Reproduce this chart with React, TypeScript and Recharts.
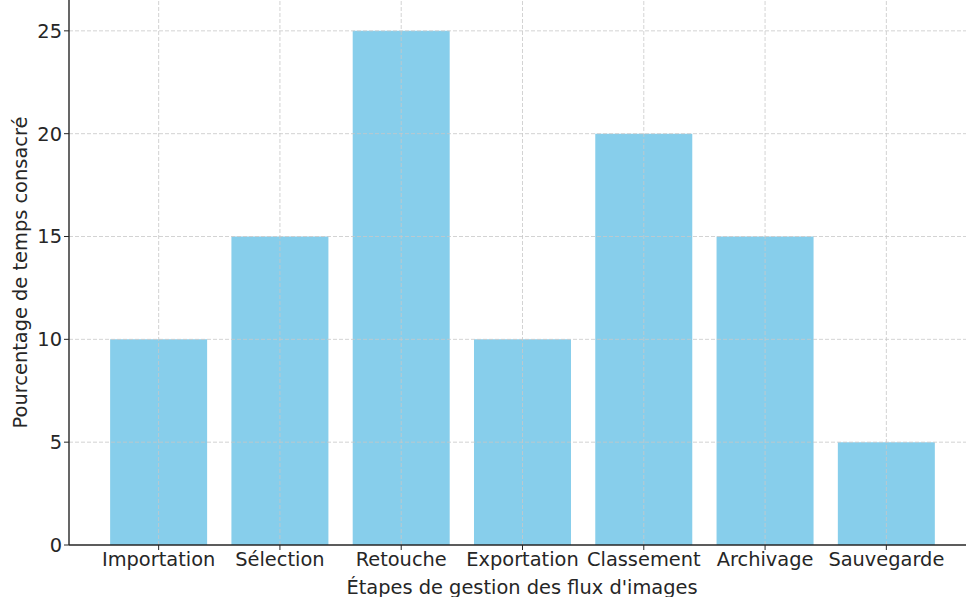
import React from "react";
import { BarChart, Bar, XAxis, YAxis, ReferenceLine, Label } from "recharts";

const categories = ["Importation", "Sélection", "Retouche", "Exportation", "Classement", "Archivage", "Sauvegarde"];
const values = [10, 15, 25, 10, 20, 15, 5];
const yTicks = [0, 5, 10, 15, 20, 25];

const data = categories.map((name, i) => ({ name, value: values[i] }));

const FONT = "DejaVu Sans, sans-serif";
const FS = 19.4;
const INK = "#262626";
const GRID = { stroke: "#c8c8c8", strokeDasharray: "4 2", strokeWidth: 0.8 };

export default function App() {
  return (
    <div style={{ position: "fixed", left: 0, top: 0, width: 966, height: 597, overflow: "hidden", background: "#fff" }}>
      <BarChart
        width={980}
        height={597}
        data={data}
        margin={{ top: 0, right: 5, bottom: 0, left: 0 }}
        barCategoryGap="10%"
      >
        <Bar dataKey="value" fill="#87CEEB" isAnimationActive={false} />
        {yTicks.filter((t) => t > 0).map((t) => (
          <ReferenceLine key={"h" + t} y={t} {...GRID} />
        ))}
        {categories.map((c) => (
          <ReferenceLine key={"v" + c} x={c} {...GRID} />
        ))}
        <XAxis
          dataKey="name"
          height={52}
          padding={{ left: 29, right: 28 }}
          tick={{ fill: INK, fontSize: FS, fontFamily: FONT }}
          tickLine={{ stroke: INK }}
          axisLine={{ stroke: INK, strokeWidth: 1.4 }}
          tickSize={5}
          interval={0}
        >
          <Label value="Étapes de gestion des flux d'images" position="insideBottom" offset={3} style={{ fill: INK, fontSize: FS, fontFamily: FONT }} />
        </XAxis>
        <YAxis
          width={69}
          domain={[0, 26.5]}
          ticks={yTicks}
          allowDataOverflow
          tick={{ fill: INK, fontSize: FS, fontFamily: FONT }}
          tickLine={{ stroke: INK }}
          axisLine={{ stroke: INK, strokeWidth: 1.4 }}
          tickSize={5}
        >
          <Label value="Pourcentage de temps consacré" angle={-90} position="insideLeft" offset={20} style={{ fill: INK, fontSize: FS, fontFamily: FONT, textAnchor: "middle" }} />
        </YAxis>
      </BarChart>
    </div>
  );
}
